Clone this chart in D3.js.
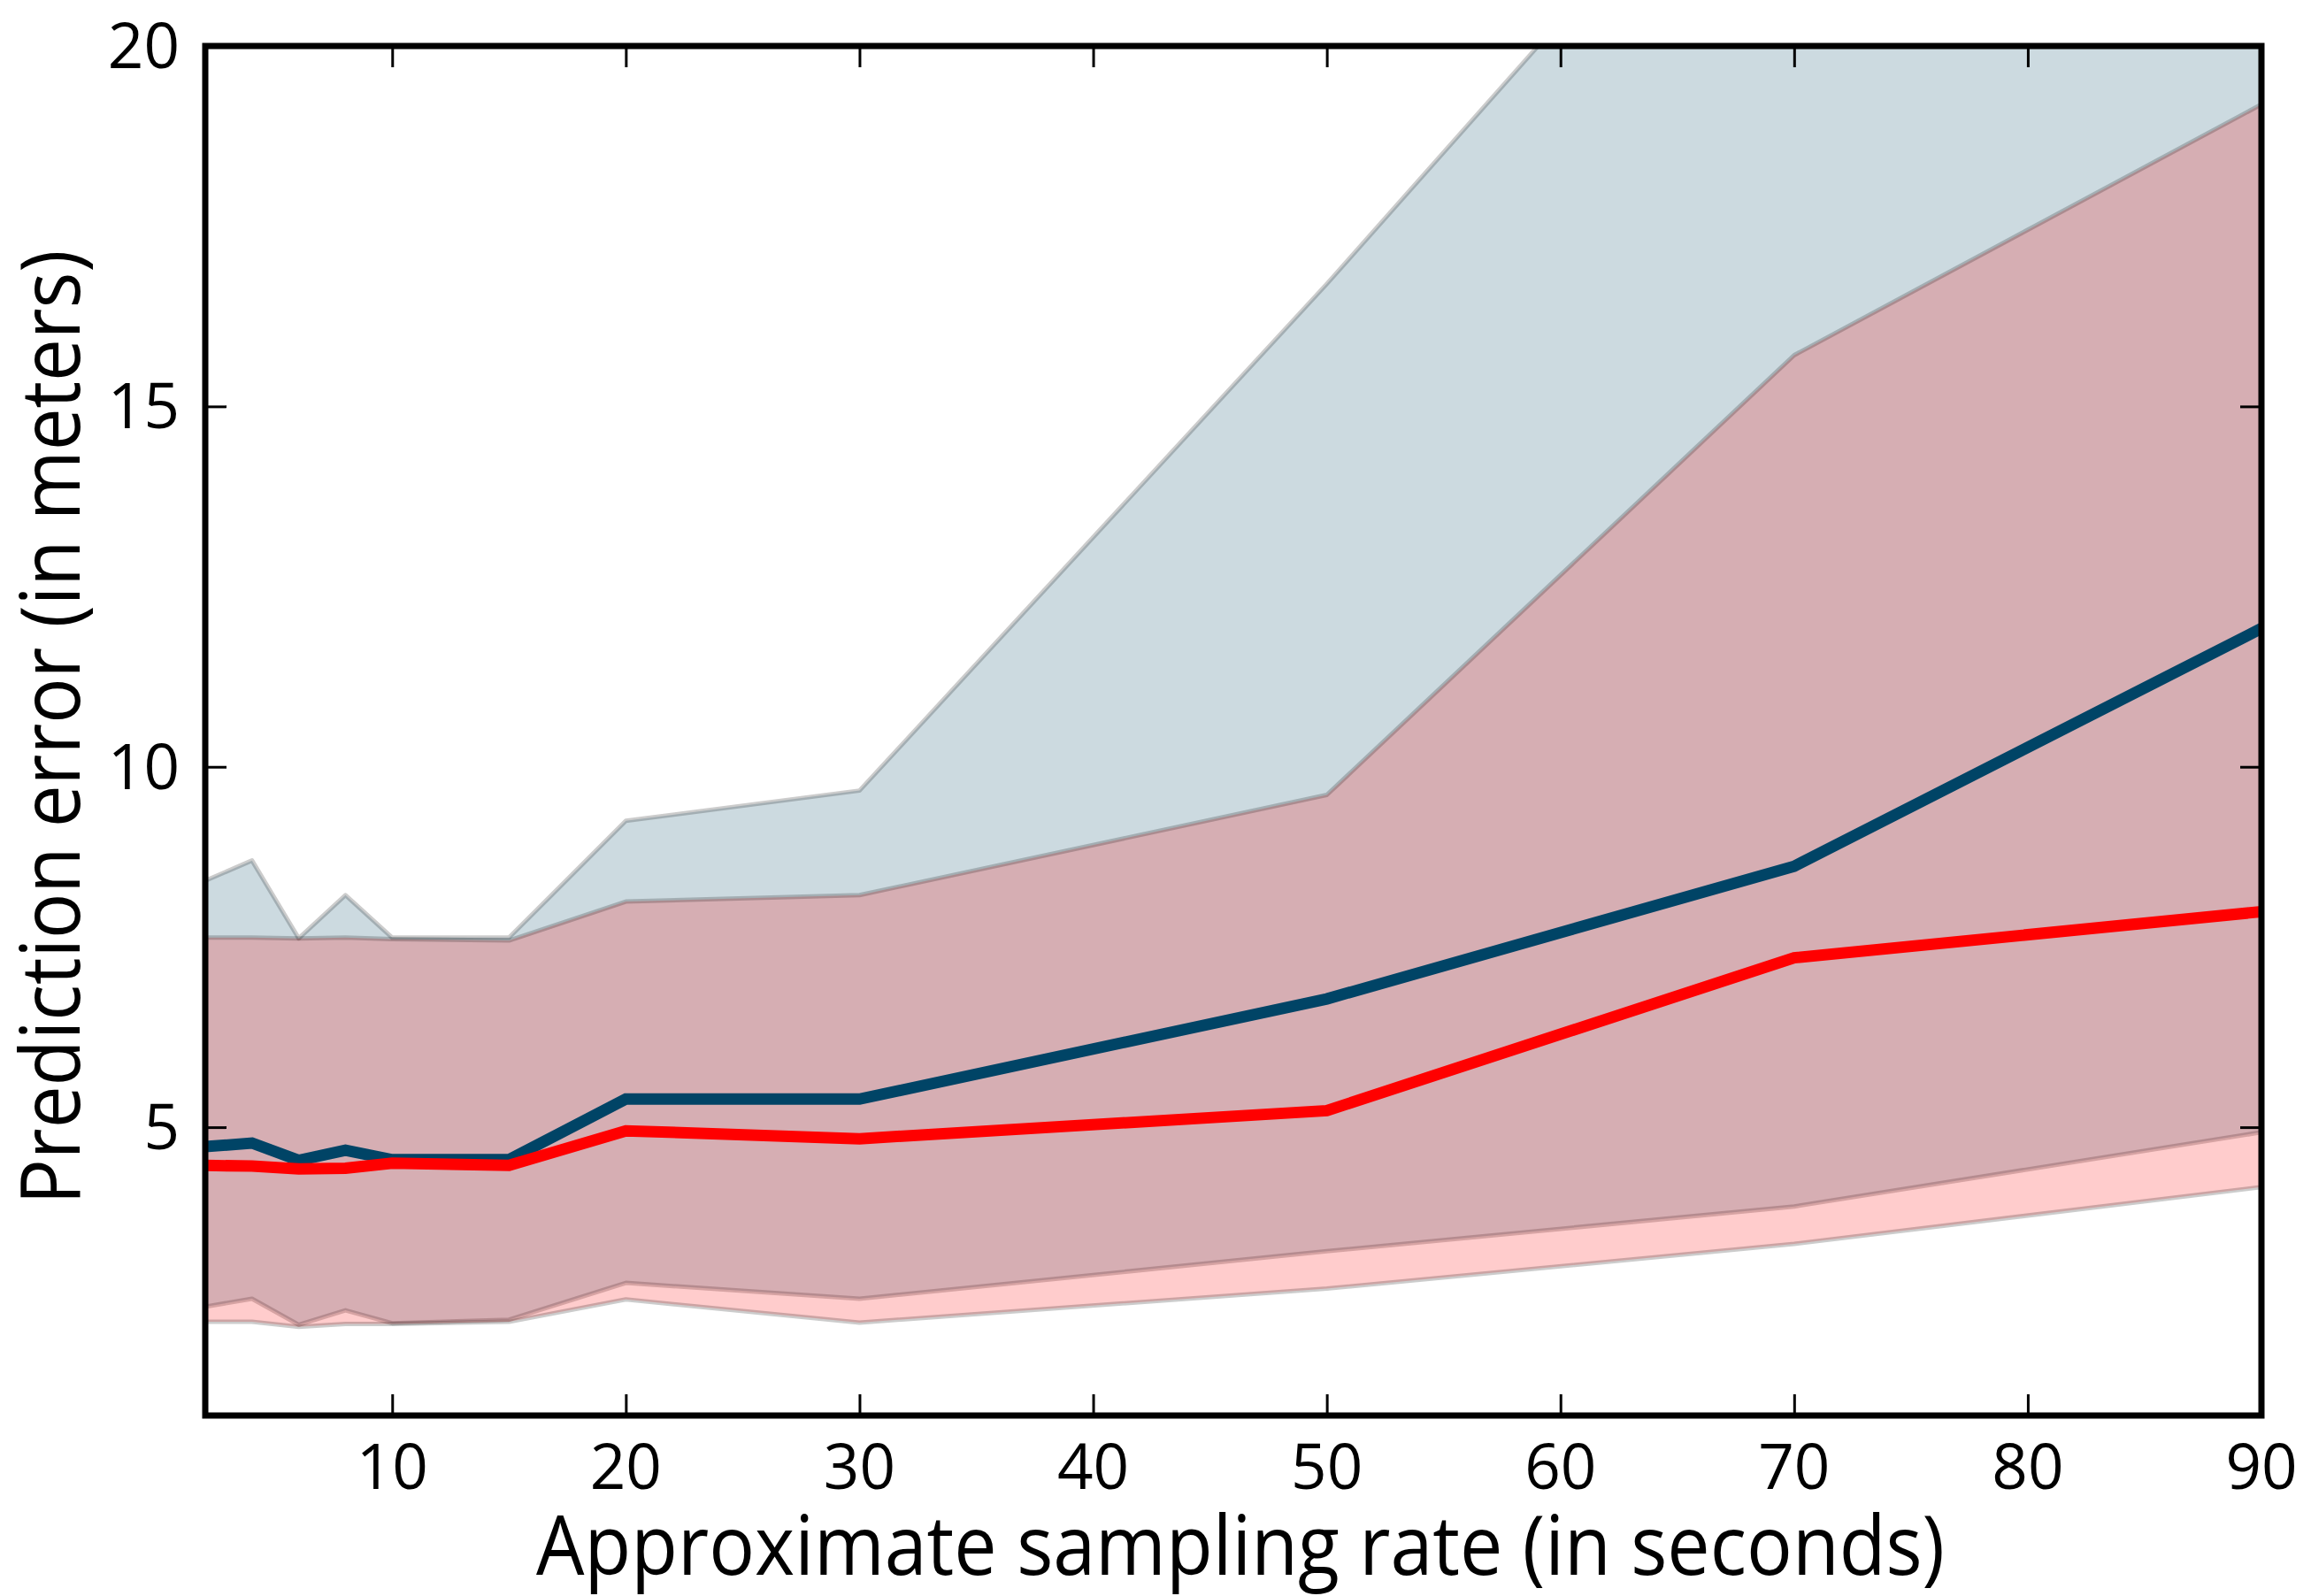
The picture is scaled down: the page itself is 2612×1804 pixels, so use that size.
<!DOCTYPE html>
<html>
<head>
<meta charset="utf-8">
<script src="https://cdn.jsdelivr.net/npm/d3@7"></script>
<style>
  body { margin: 0; background: #fff; }
  svg { display: block; }
  text { font-family: 'Open Sans', 'Noto Sans', sans-serif; fill: #000; }
</style>
</head>
<body>
<div class="workspace"></div>
<script>
// sampling rate (seconds)
const samplingRates = [2, 4, 6, 8, 10, 15, 20, 30, 50, 70, 90];

// dark blue series: mean and band
const blueMean = [4.73, 4.78, 4.54, 4.68, 4.55, 4.55, 5.39, 5.39, 6.78, 8.62, 11.92];
const blueUpper = [8.42, 8.70, 7.62, 8.22, 7.63, 7.63, 9.25, 9.67, 16.7, 24.0, 28.0];
const blueLower = [2.51, 2.62, 2.26, 2.46, 2.28, 2.33, 2.84, 2.62, 3.28, 3.90, 4.93];

// red series: mean and band
const redMean = [4.47, 4.46, 4.42, 4.43, 4.50, 4.47, 4.95, 4.84, 5.23, 7.35, 7.99];
const redUpper = [7.63, 7.63, 7.62, 7.63, 7.61, 7.59, 8.13, 8.22, 9.61, 15.71, 19.19];
const redLower = [2.30, 2.30, 2.23, 2.27, 2.27, 2.30, 2.61, 2.29, 2.76, 3.38, 4.17];

const xTicks = [10, 20, 30, 40, 50, 60, 70, 80, 90];
const yTicks = [5, 10, 15, 20];

const xLabel = 'Approximate sampling rate (in seconds)';
const yLabel = 'Prediction error (in meters)';

const parameter = {
  width: 2612,
  height: 1804,
  left: 232,
  right: 2556,
  top: 52,
  bottom: 1600,
  blue: '#004466',
  red: '#ff0000',
};

function render() {
  const svgDom = d3
    .select('.workspace')
    .append('svg')
    .attr('width', parameter.width)
    .attr('height', parameter.height)
    .attr('viewBox', `0 0 ${parameter.width} ${parameter.height}`);

  const x = d3.scaleLinear().domain([2, 90]).range([parameter.left, parameter.right]);
  const y = d3.scaleLinear().domain([1, 20]).range([parameter.bottom, parameter.top]);

  svgDom
    .append('defs')
    .append('clipPath')
    .attr('id', 'plot-clip')
    .append('rect')
    .attr('x', parameter.left)
    .attr('y', parameter.top)
    .attr('width', parameter.right - parameter.left)
    .attr('height', parameter.bottom - parameter.top);

  const plot = svgDom.append('g').attr('clip-path', 'url(#plot-clip)');

  const rows = samplingRates.map(function (d, i) {
    return {
      x: d,
      blueMean: blueMean[i],
      blueUpper: blueUpper[i],
      blueLower: blueLower[i],
      redMean: redMean[i],
      redUpper: redUpper[i],
      redLower: redLower[i],
    };
  });

  function band(lowKey, highKey) {
    return d3
      .area()
      .x((d) => x(d.x))
      .y0((d) => y(d[lowKey]))
      .y1((d) => y(d[highKey]));
  }

  // shaded bands, blue first so the red one sits over it
  [
    ['blueLower', 'blueUpper', parameter.blue],
    ['redLower', 'redUpper', parameter.red],
  ].forEach(function (item) {
    plot
      .append('path')
      .datum(rows)
      .attr('d', band(item[0], item[1]))
      .style('fill', item[2])
      .style('fill-opacity', 0.2)
      .style('stroke', '#000')
      .style('stroke-opacity', 0.2)
      .style('stroke-width', 5)
      .style('stroke-linejoin', 'round');
  });

  // mean lines
  const meanLine = (key) =>
    d3
      .line()
      .x((d) => x(d.x))
      .y((d) => y(d[key]));

  plot
    .append('path')
    .datum(rows)
    .attr('d', meanLine('blueMean'))
    .style('fill', 'none')
    .style('stroke', parameter.blue)
    .style('stroke-width', 13);

  plot
    .append('path')
    .datum(rows)
    .attr('d', meanLine('redMean'))
    .style('fill', 'none')
    .style('stroke', parameter.red)
    .style('stroke-width', 13);

  // inward ticks on all four sides
  const tickLength = 24;
  const axisBottom = d3.axisBottom(x).tickValues(xTicks).tickSize(-tickLength).tickFormat('');
  const axisTop = d3.axisTop(x).tickValues(xTicks).tickSize(-tickLength).tickFormat('');
  const axisLeft = d3.axisLeft(y).tickValues(yTicks).tickSize(-tickLength).tickFormat('');
  const axisRight = d3.axisRight(y).tickValues(yTicks).tickSize(-tickLength).tickFormat('');

  [
    [axisBottom, `translate(0,${parameter.bottom})`],
    [axisTop, `translate(0,${parameter.top})`],
    [axisLeft, `translate(${parameter.left},0)`],
    [axisRight, `translate(${parameter.right},0)`],
  ].forEach(function (item) {
    const g = svgDom.append('g').attr('transform', item[1]).call(item[0]);
    g.select('.domain').remove();
    g.selectAll('.tick line').style('stroke', '#000').style('stroke-width', 3);
  });

  // frame
  svgDom
    .append('rect')
    .attr('x', parameter.left)
    .attr('y', parameter.top)
    .attr('width', parameter.right - parameter.left)
    .attr('height', parameter.bottom - parameter.top)
    .style('fill', 'none')
    .style('stroke', '#000')
    .style('stroke-width', 7);

  // tick labels
  svgDom
    .append('g')
    .selectAll('text')
    .data(xTicks)
    .enter()
    .append('text')
    .attr('x', (d) => x(d))
    .attr('y', 1683)
    .attr('text-anchor', 'middle')
    .style('font-size', '71px')
    .text((d) => d);

  svgDom
    .append('g')
    .selectAll('text')
    .data(yTicks)
    .enter()
    .append('text')
    .attr('x', 203)
    .attr('y', (d) => y(d) + 25)
    .attr('text-anchor', 'end')
    .style('font-size', '71px')
    .text((d) => d);

  // axis titles
  svgDom
    .append('text')
    .attr('x', 1402)
    .attr('y', 1780)
    .attr('text-anchor', 'middle')
    .attr('textLength', 1592)
    .attr('lengthAdjust', 'spacingAndGlyphs')
    .style('font-size', '94px')
    .text(xLabel);

  svgDom
    .append('text')
    .attr('transform', 'translate(90,822) rotate(-90)')
    .attr('text-anchor', 'middle')
    .attr('textLength', 1079)
    .attr('lengthAdjust', 'spacingAndGlyphs')
    .style('font-size', '94px')
    .text(yLabel);
}

render();
</script>
</body>
</html>
